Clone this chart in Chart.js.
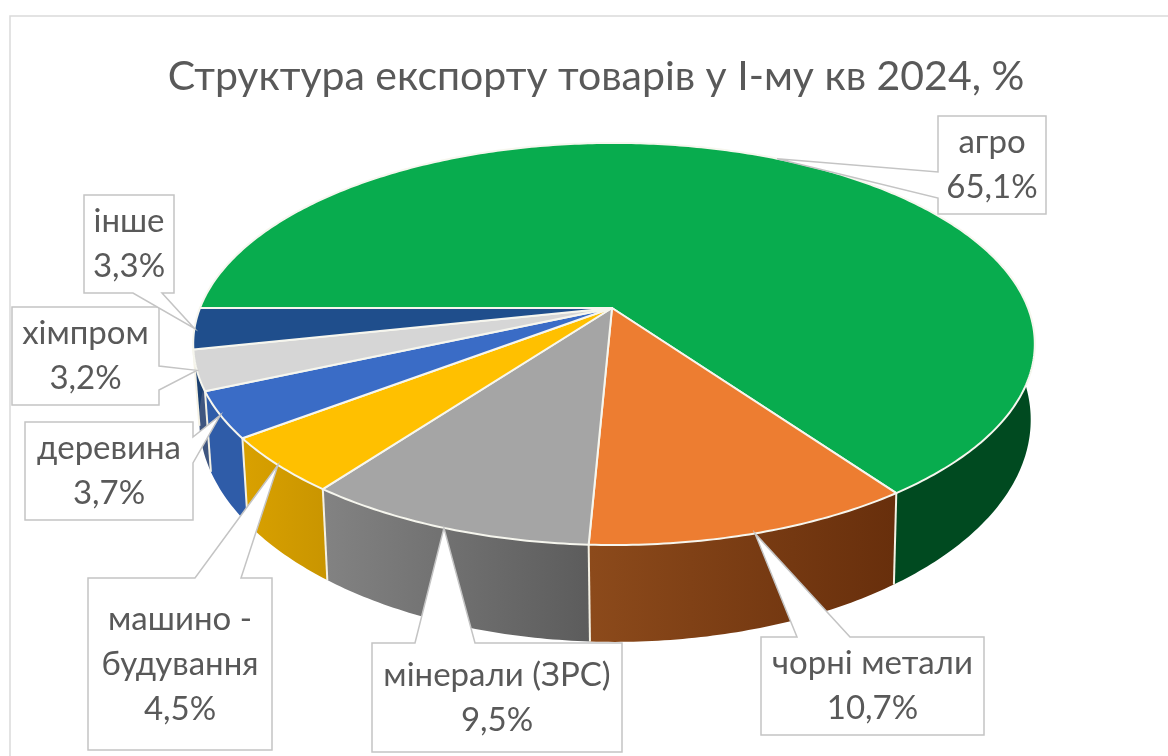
<!DOCTYPE html>
<html>
<head>
<meta charset="utf-8">
<title>Структура експорту</title>
<script src="https://cdn.jsdelivr.net/npm/chart.js"></script>
<style>
    html, body { margin: 0; padding: 0; background: #fff; }
    canvas { display: block; }
</style>
</head>
<body>
<canvas id="pie3d" width="1168" height="756"></canvas>
<script>
// data
const categories = ["агро", "чорні метали", "мінерали (ЗРС)", "машино -\nбудування", "деревина", "хімпром", "інше"];
const shares = [65.1, 10.7, 9.5, 4.5, 3.7, 3.2, 3.3];
const chartTitle = "Структура експорту товарів у І-му кв 2024, %";

const topColors = ["#08AC4E", "#ED7D31", "#A5A5A5", "#FFC000", "#3A6CC6", "#D6D6D6", "#1F4E8C"];
const wallColors = [
    ["#004A20", "#004A20"], ["#8C4A1B", "#682F0C"], ["#828282", "#5C5C5C"], ["#D8A000", "#C99500"],
    ["#2F5CA8", "#2F5CA8"], ["#3F5680", "#3F5680"], ["#1B3F70", "#1B3F70"]
];

// callout boxes: rectangle + where the pointer leaves the box edge
const boxes = [
    { x0: 938, y0: 116, x1: 1046, y1: 214, side: "left", base: [172, 198] },
    { x0: 761, y0: 637, x1: 984, y1: 735, side: "top", base: [797, 850] },
    { x0: 372, y0: 643, x1: 622, y1: 752, side: "top", base: [415, 475] },
    { x0: 88, y0: 578, x1: 272, y1: 750, side: "top", base: [195, 241] },
    { x0: 25, y0: 422, x1: 193, y1: 520, side: "right", base: [437, 463] },
    { x0: 12, y0: 307, x1: 159, y1: 405, side: "right", base: [366, 390] },
    { x0: 84, y0: 195, x1: 174, y1: 293, side: "bottom", base: [133, 162] }
];

// perspective disc: top face and bottom ring
const topFace = { cx: 614, cy: 308, rx: 414, ry: 194.6 };
const bottomFace = { cx: 615, cy: 380, rx: 409, ry: 215 };
const tilt = 0.179;
const FONT = "Lato, 'Open Sans', sans-serif";

function rimPoint(face, a) {
    const u = Math.cos(a), v = Math.sin(a);
    const d = 1 - tilt * v;
    return [face.cx + face.rx * u / d, face.cy + face.ry * v / d];
}

function tracePath(ctx, pts) {
    ctx.beginPath();
    pts.forEach((p, i) => i ? ctx.lineTo(p[0], p[1]) : ctx.moveTo(p[0], p[1]));
}

function arcPoints(face, a0, a1) {
    const n = Math.max(2, Math.ceil(Math.abs(a1 - a0) * 80));
    const pts = [];
    for (let i = 0; i <= n; i++) pts.push(rimPoint(face, a0 + (a1 - a0) * i / n));
    return pts;
}

// the front part of the side wall only, the rest is behind the top face
function drawWalls(ctx, arcs) {
    const from = -25 * Math.PI / 180, to = Math.PI;
    arcs.forEach((arc, i) => {
        let a0 = Math.max(arc.startAngle, from), a1 = Math.min(arc.endAngle, to);
        if (a1 <= a0) return;
        const upper = arcPoints(topFace, a0, a1);
        const lower = arcPoints(bottomFace, a1, a0);
        const xa = rimPoint(bottomFace, a0)[0], xb = rimPoint(bottomFace, a1)[0];
        const grad = ctx.createLinearGradient(Math.min(xa, xb), 0, Math.max(xa, xb), 0);
        grad.addColorStop(0, wallColors[i][0]);
        grad.addColorStop(1, wallColors[i][1]);
        tracePath(ctx, upper.concat(lower));
        ctx.closePath();
        ctx.fillStyle = grad;
        ctx.fill();
    });
    arcs.forEach(arc => {
        if (arc.startAngle <= 0 || arc.startAngle > Math.PI) return;
        tracePath(ctx, [rimPoint(topFace, arc.startAngle), rimPoint(bottomFace, arc.startAngle)]);
        ctx.strokeStyle = "#f4f1e4";
        ctx.lineWidth = 2;
        ctx.stroke();
    });
}

function drawTop(ctx, arcs) {
    arcs.forEach(arc => {
        const pts = [[topFace.cx - 2, topFace.cy]].concat(arcPoints(topFace, arc.startAngle, arc.endAngle));
        tracePath(ctx, pts);
        ctx.closePath();
        ctx.fillStyle = arc.options.backgroundColor;
        ctx.fill();
        ctx.strokeStyle = arc.options.borderColor;
        ctx.lineWidth = arc.options.borderWidth;
        ctx.lineJoin = "round";
        ctx.stroke();
    });
}

function drawCallouts(ctx, arcs) {
    arcs.forEach((arc, i) => {
        const b = boxes[i];
        const tip = rimPoint(topFace, (arc.startAngle + arc.endAngle) / 2);
        const pts = [[b.x0, b.y0]];
        if (b.side === "top") pts.push([b.base[0], b.y0], tip, [b.base[1], b.y0]);
        pts.push([b.x1, b.y0]);
        if (b.side === "right") pts.push([b.x1, b.base[0]], tip, [b.x1, b.base[1]]);
        pts.push([b.x1, b.y1]);
        if (b.side === "bottom") pts.push([b.base[1], b.y1], tip, [b.base[0], b.y1]);
        pts.push([b.x0, b.y1]);
        if (b.side === "left") pts.push([b.x0, b.base[1]], tip, [b.x0, b.base[0]]);
        tracePath(ctx, pts);
        ctx.closePath();
        ctx.fillStyle = "#ffffff";
        ctx.fill();
        ctx.strokeStyle = "#c4c4c4";
        ctx.lineWidth = 1.5;
        ctx.lineJoin = "miter";
        ctx.stroke();

        const lines = categories[i].split("\n");
        lines.push(shares[i].toFixed(1).replace(".", ",") + "%");
        const lh = 45;
        const midX = (b.x0 + b.x1) / 2, midY = (b.y0 + b.y1) / 2;
        ctx.font = "33px " + FONT;
        ctx.fillStyle = "#595959";
        ctx.textAlign = "center";
        ctx.textBaseline = "middle";
        lines.forEach((t, k) => ctx.fillText(t, midX, midY + (k - (lines.length - 1) / 2) * lh));
    });
}

const pie3dPlugin = {
    id: "pie3d",
    beforeDraw(chart) {
        const ctx = chart.ctx;
        ctx.save();
        ctx.fillStyle = "#ffffff";
        ctx.fillRect(0, 0, chart.width, chart.height);
        ctx.strokeStyle = "#dadada";
        ctx.lineWidth = 1.5;
        tracePath(ctx, [[10, chart.height], [10, 16], [chart.width, 16]]);
        ctx.stroke();
        ctx.restore();
    },
    // the library works out the slice angles, only the flat drawing is replaced
    beforeDatasetsDraw(chart) {
        const ctx = chart.ctx;
        const arcs = chart.getDatasetMeta(0).data;
        ctx.save();
        drawWalls(ctx, arcs);
        drawTop(ctx, arcs);
        drawCallouts(ctx, arcs);
        ctx.restore();
        return false;
    }
};

new Chart(document.getElementById("pie3d"), {
    type: "pie",
    data: {
        labels: categories,
        datasets: [{
            data: shares,
            backgroundColor: topColors,
            borderColor: "#f6f6ee",
            borderWidth: 2
        }]
    },
    options: {
        responsive: false,
        animation: false,
        rotation: -90,
        layout: { padding: { left: 24 } },
        plugins: {
            legend: { display: false },
            tooltip: { enabled: false },
            title: {
                display: true,
                text: chartTitle,
                color: "#595959",
                font: { family: FONT, size: 41, weight: "normal" },
                padding: { top: 52, bottom: 10 }
            }
        }
    },
    plugins: [pie3dPlugin]
});
</script>
</body>
</html>
